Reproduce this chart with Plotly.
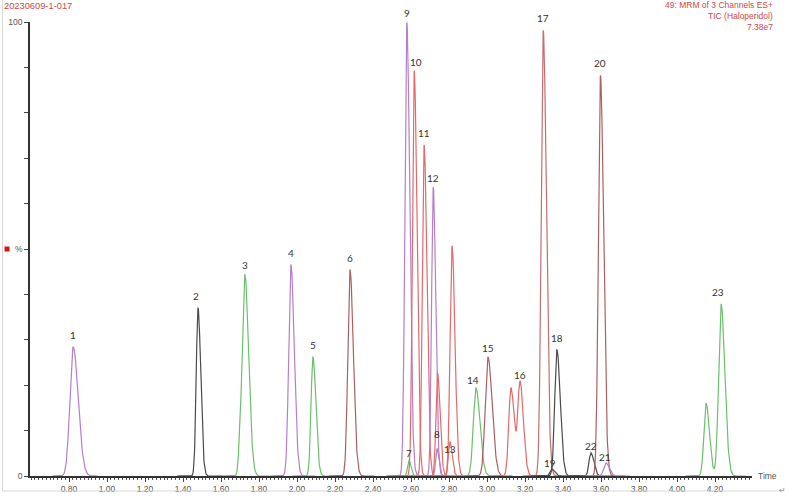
import numpy as np
import plotly.graph_objects as go

# ---------------- data ----------------
peak_labels = ["1", "2", "", "3", "4", "5", "6", "7", "9", "10", "11", "12", "8", "",
               "13", "", "14", "15", "", "16", "17", "19", "18", "22", "20", "21", "", "23"]
peak_rt = [0.822, 1.479, 1.700, 1.726, 1.968, 2.084, 2.279, 2.589, 2.578, 2.617, 2.669,
           2.717, 2.737, 2.740, 2.805, 2.816, 2.942, 3.005, 3.126, 3.174, 3.296, 3.342,
           3.368, 3.547, 3.597, 3.626, 4.153, 4.232]
peak_height = [28.4, 37.0, 6.0, 43.8, 46.5, 26.2, 45.4, 3.5, 100.0, 89.4, 73.0,
               63.7, 6.0, 22.6, 7.5, 50.7, 19.4, 26.2, 19.4, 20.5, 98.2, 1.5,
               27.8, 5.1, 88.3, 2.9, 16.0, 37.9]
peak_fwhm = [0.048, 0.026, 0.022, 0.036, 0.032, 0.028, 0.032, 0.020, 0.028, 0.026, 0.026,
             0.024, 0.020, 0.024, 0.022, 0.028, 0.038, 0.040, 0.032, 0.032, 0.030, 0.027,
             0.032, 0.028, 0.030, 0.032, 0.032, 0.036]
peak_channel = [0, 1, 2, 2, 3, 4, 5, 6, 7, 8, 9, 10, 11, 12, 13, 14, 15, 16, 17, 17,
                18, 19, 20, 21, 22, 23, 24, 24]
channel_group = ["purple", "gray", "green", "purple", "green", "brown", "green", "purple",
                 "red", "red", "purple", "purple", "red", "red", "red", "green", "brown",
                 "red", "rose", "gray", "gray", "gray", "brown", "purple", "green"]

x_tick_values = [0.80, 1.00, 1.20, 1.40, 1.60, 1.80, 2.00, 2.20, 2.40, 2.60, 2.80,
                 3.00, 3.20, 3.40, 3.60, 3.80, 4.00, 4.20]
y_tick_values = [0, 10, 20, 30, 40, 50, 60, 70, 80, 90, 100]
y_tick_text = ["0", "", "", "", "", "%", "", "", "", "", "100"]

sample_name = "20230609-1-017"
header_lines = ["49: MRM of 3 Channels ES+", "TIC (Haloperidol)", "7.38e7"]

# ---------------- styling ----------------
palette = {"purple": "#b57fcb", "gray": "#4a4a4a", "green": "#6cbf6c",
           "brown": "#ab6060", "red": "#e46a6a", "rose": "#c46e6e"}
label_shift = {"7": 7, "8": 15, "13": -7, "14": 8, "16": 8, "19": 6, "21": 6,
               "22": 7, "9": 9, "10": 8, "12": 9, "15": 9}
label_xshift = {"10": 2, "14": -3, "23": -3, "2": -2, "19": -2, "21": -1}

W, H = 789, 497
ML, MR, MT, MB = 30, 37, 22, 21
PW, PH = W - ML - MR, H - MT - MB
px_per_min = 190.0
x_start = 0.8 - 39 / px_per_min
x_range = [x_start, x_start + PW / px_per_min]


def pxx(p):
    return (p - ML) / PW


def pxy(p):
    return (H - MB - p) / PH


def peak_shape(t, rt, h, fwhm):
    s = fwhm / 2.355
    sl, sr = s * 0.85, s * 1.3
    sig = np.where(t < rt, sl, sr)
    return h * np.exp(-0.5 * ((t - rt) / sig) ** 2)


fig = go.Figure()

channels = sorted(set(peak_channel))
for ch in channels:
    idx = [i for i, c in enumerate(peak_channel) if c == ch]
    lo = min(peak_rt[i] for i in idx) - 0.11
    hi = max(peak_rt[i] for i in idx) + 0.13
    t = np.arange(lo, hi, 0.0015)
    y = np.zeros_like(t)
    for i in idx:
        y = y + peak_shape(t, peak_rt[i], peak_height[i], peak_fwhm[i])
    fig.add_trace(go.Scatter(x=t, y=y, mode="lines",
                             line=dict(color=palette[channel_group[ch]], width=1.2),
                             hoverinfo="skip", showlegend=False))

for lab, rt, h in zip(peak_labels, peak_rt, peak_height):
    if not lab:
        continue
    fig.add_annotation(x=rt, y=h, xref="x", yref="y", text=lab, showarrow=False,
                       yshift=label_shift.get(lab, 12), xshift=label_xshift.get(lab, 0),
                       font=dict(family="Lato", size=10, color="#333333"))

# header texts
fig.add_annotation(x=pxx(2), y=pxy(6), xref="paper", yref="paper", text=sample_name,
                   showarrow=False, xanchor="left", yanchor="middle",
                   font=dict(family="Liberation Sans", size=9.3, color="#d04848"))
for k, line in enumerate(header_lines):
    fig.add_annotation(x=pxx(775), y=pxy(5 + 11 * k), xref="paper", yref="paper",
                       text=line, showarrow=False, xanchor="right", yanchor="middle",
                       font=dict(family="Liberation Sans", size=8.5, color="#d04848"))

fig.add_annotation(x=pxx(756), y=0, xref="paper", yref="y", text="Time", showarrow=False,
                   xanchor="left", yanchor="middle",
                   font=dict(family="Liberation Sans", size=8.5, color="#555555"))
fig.add_annotation(x=pxx(782), y=pxy(490), xref="paper", yref="paper", text="↵",
                   showarrow=False, xanchor="center", yanchor="middle",
                   font=dict(family="DejaVu Sans", size=8, color="#888888"))

# frame lines and marker
fig.add_shape(type="line", xref="paper", yref="paper", x0=pxx(2.5), x1=pxx(2.5),
              y0=pxy(0), y1=pxy(491), line=dict(color="#d8d8d8", width=1))
fig.add_shape(type="line", xref="paper", yref="paper", x0=pxx(2.5), x1=pxx(777),
              y0=pxy(491), y1=pxy(491), line=dict(color="#d8d8d8", width=1))
fig.add_shape(type="rect", xref="paper", yref="paper", x0=pxx(4.5), x1=pxx(9.5),
              y0=pxy(251.5), y1=pxy(246.5), line=dict(width=0), fillcolor="#e01010")

fig.update_xaxes(range=x_range, automargin=False, showline=True, linecolor="#333333",
                 linewidth=1.5, ticks="outside", ticklen=4, tickcolor="#444444", tickwidth=1,
                 tickmode="array", tickvals=x_tick_values,
                 ticktext=[f"{v:.2f}" for v in x_tick_values],
                 tickfont=dict(family="Liberation Sans", size=8.5, color="#555555"),
                 minor=dict(tick0=0.6, dtick=0.02, ticks="outside", ticklen=2.5,
                            tickcolor="#555555", showgrid=False),
                 showgrid=False, zeroline=False)
fig.update_yaxes(range=[0, 100], automargin=False, showline=True, linecolor="#333333",
                 linewidth=1.5, ticks="outside", ticklen=4, tickcolor="#444444", tickwidth=1,
                 tickmode="array", tickvals=y_tick_values, ticktext=y_tick_text,
                 tickfont=dict(family="Liberation Sans", size=8.5, color="#555555"),
                 showgrid=False, zeroline=False)

fig.update_layout(width=W, height=H, margin=dict(l=ML, r=MR, t=MT, b=MB, autoexpand=False),
                  plot_bgcolor="white", paper_bgcolor="white", showlegend=False)

fig.write_html("out.html")
